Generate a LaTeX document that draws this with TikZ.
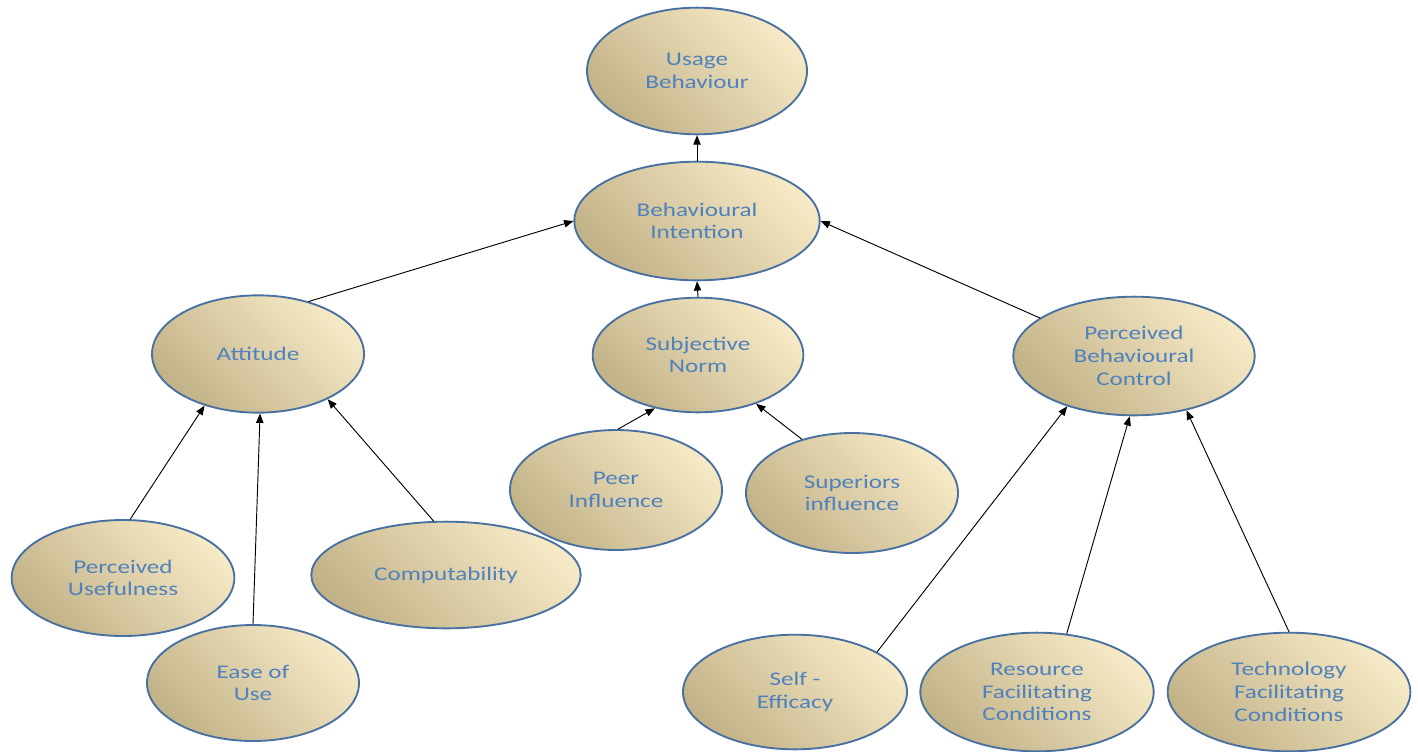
\documentclass[tikz,border=0pt]{standalone}
\usepackage{fontspec}
\newfontfamily\lblfont[FakeStretch=1.3]{Carlito}
\usetikzlibrary{arrows.meta, shapes.geometric}
\definecolor{tanlight}{RGB}{246,234,198}
\definecolor{tandark}{RGB}{194,178,136}
\definecolor{rimblue}{RGB}{72,112,160}
\definecolor{textblue}{RGB}{79,129,189}

\begin{document}
\begin{tikzpicture}[line cap=round,line join=round,>={Triangle[length=7pt,width=5.5pt]},x=0.75pt,y=-0.75pt,
  construct/.style={ellipse, draw=rimblue, line width=1.4pt, top color=tanlight, bottom color=tandark, shading angle=-45,
    text=textblue, align=center, inner sep=0pt, font=\lblfont\fontsize{14.5}{17}\selectfont},
  size/.style 2 args={minimum width=#1, minimum height=#2},
  link/.style={->, line width=0.7pt, black}]
\useasboundingbox (0,0) rectangle (1418,751);

% Top of the model
\node [construct, size={165pt}{95pt}] (ub) at (697,71) {Usage\\Behaviour};
\node [construct, size={184pt}{89pt}] (bi) at (697,221) {Behavioural\\Intention};

% Second level
\node [construct, size={159pt}{88pt}] (att) at (258,354) {Attitude};
\node [construct, size={158pt}{86pt}] (sn) at (698,355) {Subjective\\Norm};
\node [construct, size={181pt}{89pt}] (pbc) at (1134,356) {Perceived\\Behavioural\\Control};

% Subjective norm factors
\node [construct, size={159pt}{90pt}] (peer) at (616,490) {Peer\\Influence};
\node [construct, size={159pt}{90pt}] (sup) at (852,493) {Superiors\\influence};

% Attitude factors
\node [construct, size={167pt}{87pt}] (pu) at (123,578) {Perceived\\Usefulness};
\node [construct, size={202pt}{80pt}] (comp) at (446,575) {Computability};
\node [construct, size={159pt}{87pt}] (ease) at (253,683) {Ease of\\Use};

% Control factors
\node [construct, size={168pt}{86pt}] (se) at (795,692) {Self -\\Efficacy};
\node [construct, size={175pt}{89pt}] (rfc) at (1037,692) {Resource\\Facilitating\\Conditions};
\node [construct, size={182pt}{89pt}] (tfc) at (1289,692) {Technology\\Facilitating\\Conditions};

% Arrows
\draw [link] (bi.north) -- (ub.south);
\draw [link] (att.46) -- (bi.west);
\draw [link] (sn.north) -- (bi.south);
\draw [link] (pbc.158) -- (bi.east);
\draw [link] (peer.88) -- (sn.231);
\draw [link] (sup.133) -- (sn.320);
\draw [link] (pu.83) -- (att.224);
\draw [link] (ease.north) -- (att.272);
\draw [link] (comp.103) -- (att.327);
\draw [link] (se.26) -- (pbc.217);
\draw [link] (rfc.63) -- (pbc.266);
\draw [link] (tfc.north) -- (pbc.314);
\end{tikzpicture}
\end{document}
